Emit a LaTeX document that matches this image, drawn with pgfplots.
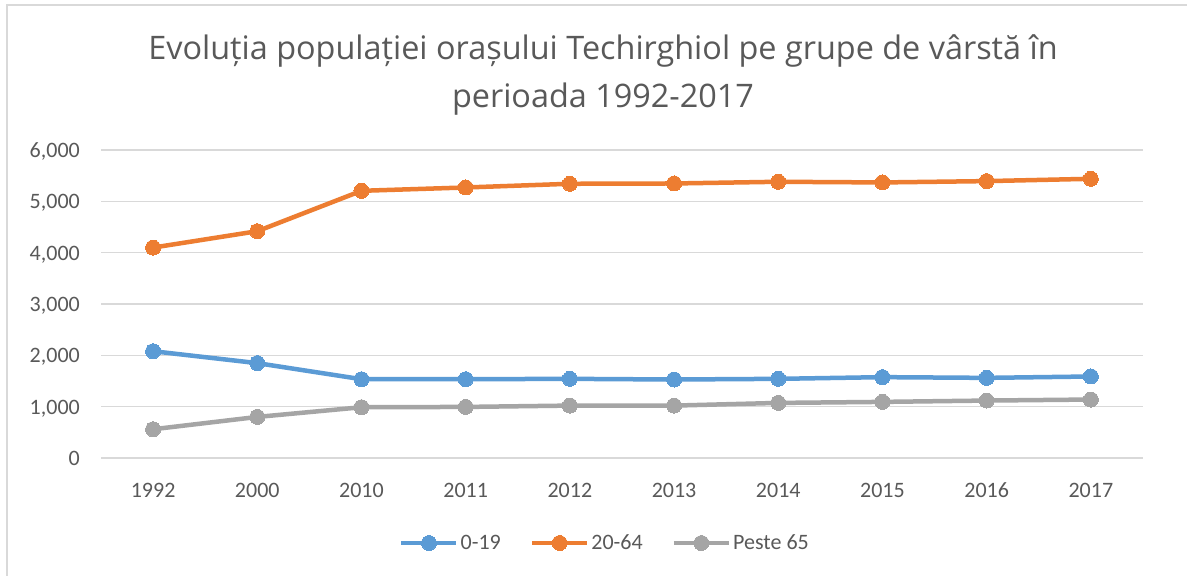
\documentclass[border=0pt]{standalone}
\usepackage{pgfplots}
\pgfplotsset{compat=1.18}
\usepackage{fontspec}
\setmainfont{Carlito}
\newfontfamily\titlefont{Open Sans}
\definecolor{cblue}{HTML}{5B9BD5}
\definecolor{corange}{HTML}{ED7D31}
\definecolor{cgray}{HTML}{A5A5A5}
\definecolor{ctext}{HTML}{595959}
\definecolor{cgrid}{HTML}{D9D9D9}
\begin{document}
\begin{tikzpicture}
\useasboundingbox (0,0) rectangle (1187bp,576bp);
\fill[white] (0,0) rectangle (1187bp,576bp);
\draw[cgrid, line width=1.3bp] (7bp,0) -- (7bp,571bp) -- (1187bp,571bp);
\node[anchor=base, text=ctext, font=\titlefont\fontsize{32.4bp}{38bp}\selectfont, inner sep=0pt] at (603bp,516bp) {Evoluția populației orașului Techirghiol pe grupe de vârstă în};
\node[anchor=base, text=ctext, font=\titlefont\fontsize{32.4bp}{38bp}\selectfont, inner sep=0pt] at (603bp,468bp) {perioada 1992-2017};
\begin{axis}[
  at={(101bp,118bp)}, anchor=south west,
  width=1042bp, height=308bp, scale only axis,
  xmin=-0.5, xmax=9.5, ymin=0, ymax=6000,
  xtick={0,...,9},
  xticklabels={1992,2000,2010,2011,2012,2013,2014,2015,2016,2017},
  ytick={0,1000,...,6000},
  ymajorgrids, grid style={cgrid, line width=1.3bp},
  axis line style={draw=none},
  major tick length=0pt,
  /pgf/number format/assume math mode=true,
  /pgf/number format/1000 sep={,},
  ticklabel style={font=\fontsize{22bp}{26bp}\selectfont, text=ctext, inner sep=0pt},
  yticklabel style={anchor=base east, xshift=-21bp, yshift=-7.5bp},
  xticklabel style={anchor=base, yshift=-39bp},
  legend columns=3,
  legend style={at={(axis description cs:0.4837,-0.276)}, anchor=center, draw=none, fill=none,
    font=\fontsize{22bp}{26bp}\selectfont, text=ctext,
    /tikz/every even column/.append style={column sep=27bp}},
  legend cell align=left,
  legend image code/.code={\draw[#1, mark repeat=2, mark phase=2] plot coordinates {(0bp,0bp) (27.5bp,0bp) (55bp,0bp)};},
  every axis plot/.append style={line width=4.5bp, line join=round, mark=*, mark size=7.5bp},
  clip=false,
]
\addplot[cblue, mark options={fill=cblue, draw=cblue, line width=0pt}] coordinates {
(0,2080) (1,1848) (2,1535) (3,1535) (4,1542) (5,1529) (6,1542) (7,1575) (8,1561) (9,1588)};
\addlegendentry{0-19}
\addplot[corange, mark options={fill=corange, draw=corange, line width=0pt}] coordinates {
(0,4099) (1,4418) (2,5205) (3,5270) (4,5342) (5,5348) (6,5381) (7,5368) (8,5394) (9,5439)};
\addlegendentry{20-64}
\addplot[cgray, mark options={fill=cgray, draw=cgray, line width=0pt}] coordinates {
(0,560) (1,800) (2,989) (3,995) (4,1021) (5,1021) (6,1073) (7,1093) (8,1119) (9,1139)};
\addlegendentry{Peste 65}
\end{axis}
\end{tikzpicture}
\end{document}
